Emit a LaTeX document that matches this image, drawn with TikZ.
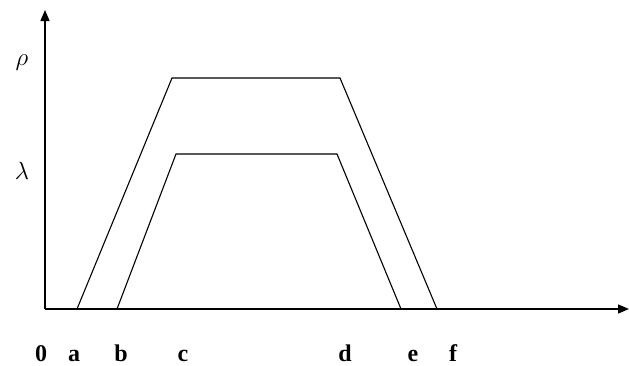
\documentclass[tikz,border=0pt]{standalone}
\usepackage{fontspec}
\setmainfont{Liberation Serif}
\usetikzlibrary{arrows.meta,positioning}

\begin{document}
\begin{tikzpicture}[x=1pt,y=-1pt,
	axe/.style={line width=1.4pt,-{Triangle[length=11pt,width=9pt]}},
	curva/.style={line width=1.1pt,line join=miter},
	marca/.style={anchor=base,inner sep=0pt,font=\fontsize{24}{26}\selectfont\bfseries},
	etiq/.style={inner sep=0pt,font=\fontsize{36}{38}\selectfont}
	]
	\useasboundingbox (0,0) rectangle (629,365);
	\coordinate (orig) at (45,309);
	\coordinate (ytop) at (45,10);
	\coordinate (xend) at (629,309);
	\draw[axe] (orig) -- (ytop);
	\draw[axe] (orig) -- (xend);
	% trapecio exterior
	\coordinate (pa) at (77,309);
	\coordinate (pc1) at (172,78);
	\coordinate (pd1) at (340,78);
	\coordinate (pf) at (437,309);
	\draw[curva] (pa) -- (pc1) -- (pd1) -- (pf);
	% trapecio interior
	\coordinate (pb) at (117,309);
	\coordinate (pc2) at (176,154);
	\coordinate (pd2) at (337,154);
	\coordinate (pe) at (401,309);
	\draw[curva] (pb) -- (pc2) -- (pd2) -- (pe);
	\node[etiq] (rho) at (22,63) {$\rho$};
	\node[etiq] (lam) at (22,171) {$\lambda$};
	\node[marca] (l0) at (41,361) {0};
	\node[marca] (la) at (74,361) {a};
	\node[marca] (lb) at (121,361) {b};
	\node[marca] (lc) at (183,361) {c};
	\node[marca] (ld) at (345,361) {d};
	\node[marca] (le) at (413,361) {e};
	\node[marca] (lf) at (453,361) {f};
\end{tikzpicture}
\end{document}
